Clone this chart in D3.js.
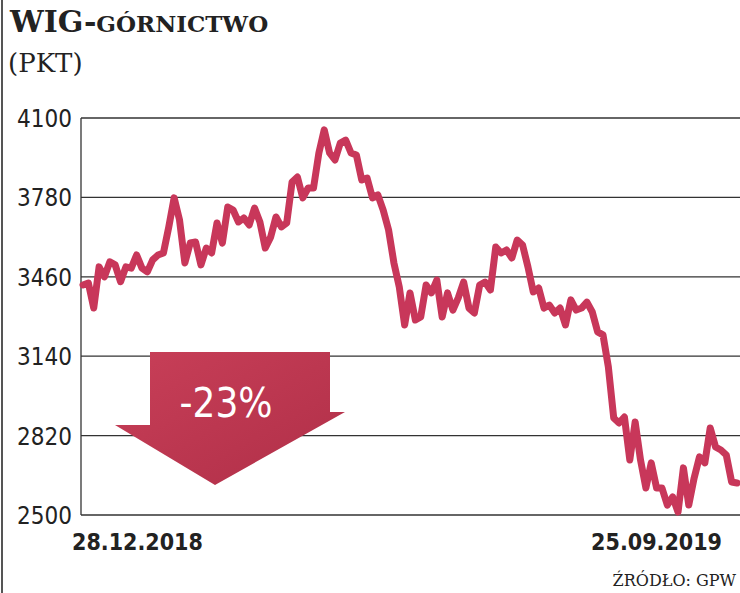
<!DOCTYPE html><html><head><meta charset="utf-8"><script src="https://cdn.jsdelivr.net/npm/d3@7"></script>
<style>body{margin:0;background:#fff}</style></head><body><svg id="c" width="740" height="593"></svg>
<script>
const yTicks=[2500,2820,3140,3460,3780,4100];
const xLabels=["28.12.2018","25.09.2019"];
const values=[3427,3435,3334,3500,3460,3520,3508,3440,3500,3495,3548,3495,3480,3528,3548,3556,3661,3778,3690,3516,3596,3600,3508,3576,3556,3677,3596,3741,3729,3681,3697,3669,3737,3681,3576,3620,3701,3661,3677,3842,3862,3778,3818,3818,3959,4052,3959,3931,3999,4011,3959,3951,3850,3858,3778,3790,3729,3649,3516,3419,3266,3395,3286,3298,3427,3395,3447,3298,3395,3326,3375,3439,3334,3314,3427,3439,3407,3580,3556,3568,3536,3608,3588,3500,3399,3415,3334,3346,3314,3334,3266,3367,3326,3334,3358,3318,3238,3226,3097,2891,2871,2895,2722,2875,2722,2609,2710,2609,2609,2540,2573,2512,2690,2540,2649,2734,2710,2851,2774,2762,2742,2633,2629];
const svg=d3.select("#c");
const x=d3.scaleLinear().domain([0,values.length-1]).range([83,737]);
const y=d3.scaleLinear().domain([2500,4100]).range([515,118]);
svg.append("g").selectAll("line").data(yTicks).join("line").attr("x1",81).attr("x2",740).attr("y1",d=>y(d)).attr("y2",d=>y(d)).attr("stroke","#333").attr("stroke-width",1.3);
svg.append("line").attr("x1",81).attr("x2",81).attr("y1",118).attr("y2",515).attr("stroke","#333").attr("stroke-width",1.3);
svg.append("line").attr("x1",2).attr("x2",2).attr("y1",0).attr("y2",593).attr("stroke","#555").attr("stroke-width",2);
svg.append("g").selectAll("text").data(yTicks).join("text").attr("x",72).attr("y",d=>y(d)+9).attr("text-anchor","end")
 .attr("font-family","DejaVu Sans Condensed, DejaVu Sans").attr("font-stretch","condensed").attr("font-size",24).attr("fill","#222").text(d=>d);
const defs=svg.append("defs");
const gr=defs.append("linearGradient").attr("id","ag").attr("x1","0").attr("y1","0").attr("x2","1").attr("y2","1");
gr.append("stop").attr("offset","0").attr("stop-color","#c83f58");
gr.append("stop").attr("offset","1").attr("stop-color","#b02f48");
svg.append("path").attr("d","M150,352 L330,352 L330,412 L345,412 L215,485 L115,425 L150,425 Z").attr("fill","url(#ag)");
svg.append("text").attr("x",226).attr("y",417).attr("text-anchor","middle").attr("font-family","DejaVu Sans Condensed, DejaVu Sans").attr("font-stretch","condensed").attr("font-size",40).attr("fill","#fff").text("-23%");
svg.append("path").datum(values).attr("d",d3.line().x((d,i)=>x(i)).y(d=>y(d)))
 .attr("fill","none").attr("stroke","#c8375a").attr("stroke-width",7).attr("stroke-linejoin","round").attr("stroke-linecap","round");
svg.append("text").attr("x",72).attr("y",550).attr("font-family","DejaVu Sans Condensed, DejaVu Sans").attr("font-stretch","condensed").attr("font-weight","bold").attr("font-size",23).attr("fill","#222").text(xLabels[0]);
svg.append("text").attr("x",722).attr("y",550).attr("text-anchor","end").attr("font-family","DejaVu Sans Condensed, DejaVu Sans").attr("font-stretch","condensed").attr("font-weight","bold").attr("font-size",23).attr("fill","#222").text(xLabels[1]);
svg.append("text").attr("x",10).attr("y",32).attr("font-family","DejaVu Serif").attr("font-weight","bold").attr("font-size",30).attr("fill","#222")
 .html('WIG-<tspan font-size="23">GÓRNICTWO</tspan>');
svg.append("text").attr("x",8).attr("y",72).attr("font-family","DejaVu Serif").attr("font-size",26).attr("fill","#222").text("(PKT)");
svg.append("text").attr("x",736).attr("y",586).attr("text-anchor","end").attr("font-family","DejaVu Serif").attr("font-size",16).attr("fill","#222").text("ŹRÓDŁO: GPW");
</script></body></html>
